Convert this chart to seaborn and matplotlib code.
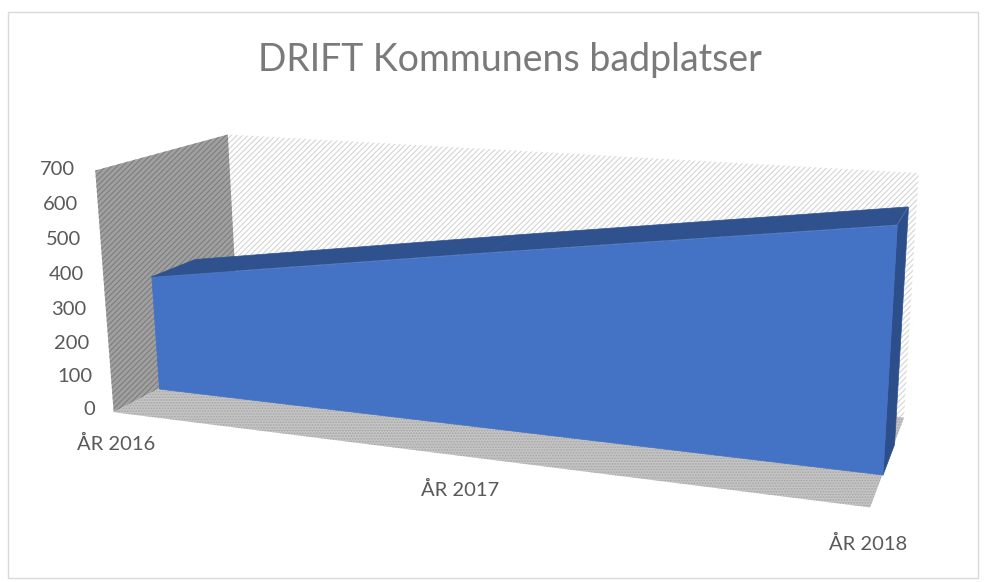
import numpy as np
import matplotlib
matplotlib.use("Agg")
import matplotlib.pyplot as plt
import seaborn as sns
from mpl_toolkits.mplot3d.art3d import Poly3DCollection

categories = ["ÅR 2016", "ÅR 2017", "ÅR 2018"]
values = [345, 500, 650]
value_ticks = [0, 100, 200, 300, 400, 500, 600, 700]
title = "DRIFT Kommunens badplatser"

sns.set_theme(style="white")
plt.rcParams["font.family"] = ["Lato", "DejaVu Sans"]
plt.rcParams["hatch.linewidth"] = 0.8

W, H = 988, 582
fig = plt.figure(figsize=(W / 100, H / 100), dpi=100)
fig.patch.set_facecolor("white")
ax = fig.add_axes([0, (H - W) / 2 / H, 1, W / H], projection="3d", computed_zorder=False)
ax.set_axis_off()
ax.patch.set_visible(False)

x_lo, x_hi = 0, len(categories) - 1
z_hi = value_ticks[-1]
d_front, d_back = 0.33, 0.67

# box corners in data space and where they sit in the picture: camera calibration
calib_world = [(x_lo, 0, 0), (x_lo, 0, z_hi), (x_lo, 1, 0), (x_lo, 1, z_hi),
               (x_hi, 1, 0), (x_hi, 1, z_hi), (x_hi, 0, 0)]
calib_pixel = [(113, 413), (96, 170), (240, 346), (227, 135),
               (904, 418), (919, 173), (870, 507)]


def camera():
    disp = np.array([(px, H - py) for px, py in calib_pixel], float)
    view = ax.transData.inverted().transform(disp)
    A, b = [], []
    for (X, Y, Z), (u, v) in zip(calib_world, view):
        A.append([X, Y, Z, 1, 0, 0, 0, 0, -u * X, -u * Y, -u * Z])
        b.append(u)
        A.append([0, 0, 0, 0, X, Y, Z, 1, -v * X, -v * Y, -v * Z])
        b.append(v)
    p = np.linalg.lstsq(np.array(A, float), np.array(b, float), rcond=None)[0]
    return np.array([[p[0], p[1], p[2], p[3]],
                     [p[4], p[5], p[6], p[7]],
                     [0, 0.1, 0, 0.5],
                     [p[8], p[9], p[10], 1.0]])


ax.get_proj = camera


def wall(corners, face, hatch_col, hatch, z):
    plt.rcParams["hatch.color"] = hatch_col
    ax.add_collection3d(Poly3DCollection([corners], facecolors=face, edgecolors=hatch_col,
                                         linewidths=0, hatch=hatch, zorder=z))


wall([(x_lo, 1, 0), (x_hi, 1, 0), (x_hi, 1, z_hi), (x_lo, 1, z_hi)], "white", "#d4d4d4", "//////", 1)
wall([(x_lo, 0, 0), (x_lo, 1, 0), (x_lo, 1, z_hi), (x_lo, 0, z_hi)], "#a0a0a0", "#7d7d7d", "//////", 1)
wall([(x_lo, 0, 0), (x_hi, 0, 0), (x_hi, 1, 0), (x_lo, 1, 0)], "#c4c4c4", "#a6a6a6", "......", 1)

grid_col = "#d9d9d9"
for t in value_ticks:
    ax.plot([x_lo, x_lo, x_hi], [0, 1, 1], [t, t, t], color=grid_col, lw=1.8, zorder=2)
ax.plot([1, 1], [1, 1], [0, z_hi], color=grid_col, lw=1.2, zorder=2)
ax.plot([1, 1], [0, 1], [0, 0], color=grid_col, lw=1.2, zorder=2)
ax.plot([x_lo, x_lo], [0, 0], [0, z_hi], color=grid_col, lw=1.8, zorder=2)
ax.plot([x_lo, x_lo], [1, 1], [0, z_hi], color=grid_col, lw=1.8, zorder=2)
ax.plot([x_hi, x_hi], [1, 1], [0, z_hi], color=grid_col, lw=1.8, zorder=2)
ax.plot([x_lo, x_hi, x_hi, x_lo], [0, 0, 1, 1], [0, 0, 0, 0], color=grid_col, lw=1.8, zorder=2)

xs = np.arange(len(categories))
top_quads = [[(xs[i], d_front, values[i]), (xs[i + 1], d_front, values[i + 1]),
              (xs[i + 1], d_back, values[i + 1]), (xs[i], d_back, values[i])] for i in range(len(xs) - 1)]
front = [(xs[0], d_front, 0)] + [(x, d_front, v) for x, v in zip(xs, values)] + [(xs[-1], d_front, 0)]
end = [(xs[-1], d_front, 0), (xs[-1], d_back, 0), (xs[-1], d_back, values[-1]), (xs[-1], d_front, values[-1])]
ax.add_collection3d(Poly3DCollection(top_quads, facecolors="#2f528f", edgecolors="#2f528f", linewidths=0.5, zorder=3))
ax.add_collection3d(Poly3DCollection([end], facecolors="#2c4f8c", edgecolors="#2c4f8c", linewidths=0.5, zorder=3))
ax.add_collection3d(Poly3DCollection([front], facecolors="#4472c4", edgecolors="#4472c4", linewidths=0.5, zorder=4))

for t in value_ticks:
    ax.text(x_lo - 0.06, 0, t, str(t), ha="right", va="center", fontsize=14.5, color="#595959", zorder=6)
for x, c in zip(xs, categories):
    ax.text(x, 0, -95, c, ha="center", va="center", fontsize=14.5, color="#595959", zorder=6)

fig.text(510 / W, 1 - 60 / H, title, ha="center", va="center", fontsize=27, color="#7a7a7a")
fig.add_artist(plt.Rectangle((8 / W, 1 - 578 / H), (978 - 8) / W, (578 - 12) / H, fill=False,
                             ec="#d9d9d9", lw=1, transform=fig.transFigure))
fig.savefig("out.png", dpi=100)
